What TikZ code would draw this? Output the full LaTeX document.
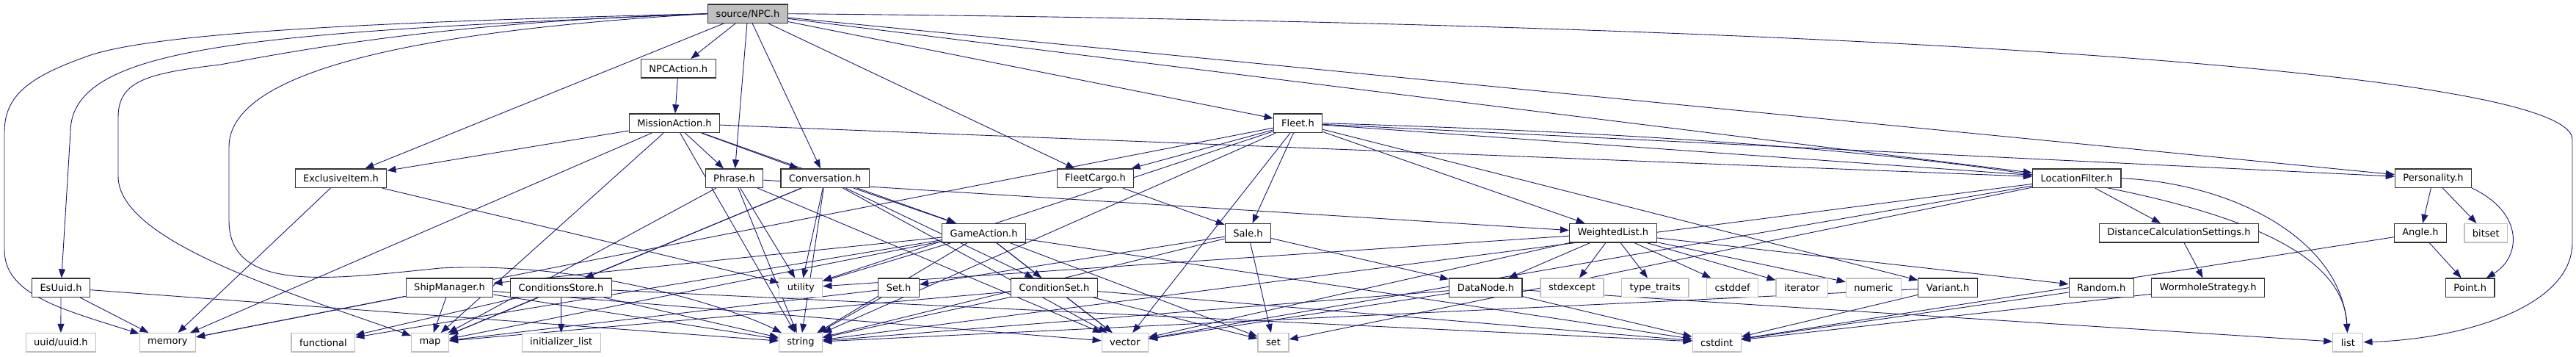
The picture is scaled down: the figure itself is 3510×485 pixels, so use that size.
\documentclass[tikz,border=0pt]{standalone}
\usepackage{fontspec}
\setmainfont{DejaVu Sans}
\usepackage{tikz}
\usetikzlibrary{arrows.meta,backgrounds}
\definecolor{edgeblue}{HTML}{191970}
\definecolor{sysgray}{HTML}{BFBFBF}

\begin{document}
\begin{tikzpicture}[x=1pt,y=-1pt,font=\fontsize{13}{15}\selectfont,
  hdr/.style={draw=black!80,line width=1.2pt,fill=white,inner xsep=11pt,
              inner ysep=0pt,minimum height=25.5pt},
  sys/.style={hdr,draw=sysgray},
  dep/.style={draw=edgeblue,line width=0.9pt,-{Triangle[length=12pt,width=9pt]}}]
\useasboundingbox (0,0) rectangle (3510,485);
% rank 0 to 2
\node[hdr,fill=sysgray] (npc) at (1019,18.7) {source/NPC.h};
\node[hdr] (npcact) at (924.3,93.3) {NPCAction.h};
\node[hdr] (misact) at (919,167.7) {MissionAction.h};
\node[hdr] (fleet) at (1768.5,167.7) {Fleet.h};
% rank 3
\node[hdr] (exitem) at (464.5,242.7) {ExclusiveItem.h};
\node[hdr] (phrase) at (1000.5,242.7) {Phrase.h};
\node[hdr] (conv) at (1124.2,242.7) {Conversation.h};
\node[hdr] (fcargo) at (1492.5,242.7) {FleetCargo.h};
\node[hdr] (locfil) at (2829.7,242.7) {LocationFilter.h};
\node[hdr] (person) at (3315.5,242.7) {Personality.h};
% rank 4
\node[hdr] (gameact) at (1340.6,317.2) {GameAction.h};
\node[hdr] (sale) at (1700.5,317.2) {Sale.h};
\node[hdr] (wlist) at (2197.8,317.2) {WeightedList.h};
\node[hdr] (distcalc) at (2968.9,317.2) {DistanceCalculationSettings.h};
\node[hdr] (angle) at (3298,317.2) {Angle.h};
\node[sys] (bitset) at (3387.3,317.2) {bitset};
% rank 5
\node[hdr] (esuuid) at (83,391.7) {EsUuid.h};
\node[hdr] (shipman) at (612.5,391.7) {ShipManager.h};
\node[hdr] (condstore) at (764.5,391.7) {ConditionsStore.h};
\node[sys] (utility) at (1091.3,391.7) {utility};
\node[hdr] (setH) at (1224.6,391.7) {Set.h};
\node[hdr] (condset) at (1436.4,391.7) {ConditionSet.h};
\node[hdr] (datanode) at (2024.4,391.7) {DataNode.h};
\node[sys] (stdexcept) at (2142,391.7) {stdexcept};
\node[sys] (typetr) at (2255.2,391.7) {type\_traits};
\node[sys] (cstddef) at (2360.6,391.7) {cstddef};
\node[sys] (iterator) at (2455.2,391.7) {iterator};
\node[sys] (numeric) at (2552.9,391.7) {numeric};
\node[hdr] (variant) at (2654,391.7) {Variant.h};
\node[hdr] (random) at (2863.2,391.7) {Random.h};
\node[hdr] (wormhole) at (3008.6,391.7) {WormholeStrategy.h};
\node[hdr] (point) at (3365.7,391.7) {Point.h};
% rank 6, system headers
\node[sys] (uuid) at (82.9,466.3) {uuid/uuid.h};
\node[sys] (memory) at (228.4,466.3) {memory};
\node[sys] (functional) at (440.4,466.3) {functional};
\node[sys] (map) at (586,466.3) {map};
\node[sys] (initlist) at (764.7,466.3) {initializer\_list};
\node[sys] (string) at (1091,466.3) {string};
\node[sys] (vector) at (1532.8,466.3) {vector};
\node[sys] (set) at (1735,466.3) {set};
\node[sys] (cstdint) at (2339.2,466.3) {cstdint};
\node[sys] (list) at (3199.3,466.3) {list};

\begin{scope}[on background layer]
% NPC.h
\draw[dep] (npc)--(npcact); \draw[dep] (npc)--(phrase); \draw[dep] (npc)--(conv);
\draw[dep] (npc)--(exitem); \draw[dep] (npc)--(fcargo); \draw[dep] (npc)--(fleet);
\draw[dep] (npc)--(locfil); \draw[dep] (npc)--(person);
\draw[dep] (npc.west) .. controls (500,30) and (200,45) .. (115,78)
  .. controls (40,105) and (6,130) .. (6,180) -- (6,340)
  .. controls (6,400) and (80,420) .. (memory);
\draw[dep] (npc.west) .. controls (350,45) and (96,60) .. (96,180) -- (esuuid);
\draw[dep] (npc.west) .. controls (600,30) and (400,70) .. (300,88)
  .. controls (200,100) and (161,110) .. (161,160) -- (161,240)
  .. controls (161,330) and (400,400) .. (map);
\draw[dep] (npc.west) .. controls (600,40) and (312,90) .. (312,200) -- (312,300)
  .. controls (312,400) and (450,380) .. (600,365)
  .. controls (800,355) and (1000,420) .. (string);
\draw[dep] (npc.east) .. controls (2400,30) and (3505,90) .. (3505,190) -- (3505,330)
  .. controls (3505,420) and (3350,462) .. (list);
% mission side
\draw[dep] (npcact)--(misact);
\draw[dep] (misact)--(exitem); \draw[dep] (misact)--(memory); \draw[dep] (misact)--(map);
\draw[dep] (misact)--(phrase); \draw[dep] (misact)--(conv); \draw[dep] (misact)--(gameact);
\draw[dep] (misact)--(locfil); \draw[dep] (misact)--(string);
\draw[dep] (exitem)--(memory); \draw[dep] (exitem)--(utility);
\draw[dep] (phrase)--(map); \draw[dep] (phrase)--(string); \draw[dep] (phrase)--(utility);
\draw[dep] (phrase)--(vector); \draw[dep] (phrase)--(wlist);
\draw[dep] (conv)--(condstore); \draw[dep] (conv)--(gameact); \draw[dep] (conv)--(condset);
\draw[dep] (conv)--(map); \draw[dep] (conv)--(string); \draw[dep] (conv)--(utility);
\draw[dep] (conv)--(vector);
% fleet side
\draw[dep] (fcargo)--(sale);
\draw[dep] (fleet)--(fcargo); \draw[dep] (fleet)--(sale); \draw[dep] (fleet)--(wlist);
\draw[dep] (fleet)--(person); \draw[dep] (fleet)--(variant); \draw[dep] (fleet)--(locfil);
\draw[dep] (fleet.east) .. controls (2900,200) and (3190,300) .. (list);
\draw[dep] (fleet)--(memory); \draw[dep] (fleet)--(string); \draw[dep] (fleet)--(utility);
\draw[dep] (fleet)--(vector);
\draw[dep] (gameact)--(shipman); \draw[dep] (gameact)--(condset); \draw[dep] (gameact)--(functional);
\draw[dep] (gameact)--(map); \draw[dep] (gameact)--(utility); \draw[dep] (gameact)--(string);
\draw[dep] (gameact)--(vector); \draw[dep] (gameact)--(set); \draw[dep] (gameact)--(cstdint);
\draw[dep] (sale)--(setH); \draw[dep] (sale)--(datanode); \draw[dep] (sale)--(string);
\draw[dep] (sale)--(set);
\draw[dep] (locfil)--(distcalc);
\draw[dep] (locfil.east) .. controls (3050,250) and (3190,330) .. (list);
\draw[dep] (locfil)--(set); \draw[dep] (locfil)--(string); \draw[dep] (locfil)--(vector);
\draw[dep] (person)--(angle); \draw[dep] (person)--(bitset);
\draw[dep] (person.south east) .. controls (3440,290) and (3435,350) .. (point);
\draw[dep] (wlist)--(datanode); \draw[dep] (wlist)--(stdexcept); \draw[dep] (wlist)--(typetr);
\draw[dep] (wlist)--(cstddef); \draw[dep] (wlist)--(iterator); \draw[dep] (wlist)--(numeric);
\draw[dep] (wlist)--(random); \draw[dep] (wlist)--(utility); \draw[dep] (wlist)--(vector);
\draw[dep] (distcalc)--(wormhole);
\draw[dep] (angle)--(point); \draw[dep] (angle)--(cstdint);
% rank 5 to the system headers
\draw[dep] (esuuid)--(uuid); \draw[dep] (esuuid)--(memory); \draw[dep] (esuuid)--(string);
\draw[dep] (shipman)--(memory); \draw[dep] (shipman)--(map); \draw[dep] (shipman)--(string);
\draw[dep] (shipman)--(vector);
\draw[dep] (condstore)--(functional); \draw[dep] (condstore)--(map); \draw[dep] (condstore)--(initlist);
\draw[dep] (condstore)--(string); \draw[dep] (condstore)--(cstdint);
\draw[dep] (setH)--(map); \draw[dep] (setH)--(string);
\draw[dep] (condset)--(map); \draw[dep] (condset)--(string); \draw[dep] (condset)--(vector);
\draw[dep] (condset)--(set); \draw[dep] (condset)--(cstdint);
\draw[dep] (datanode)--(string); \draw[dep] (datanode)--(vector); \draw[dep] (datanode)--(list);
\draw[dep] (datanode)--(cstdint);
\draw[dep] (variant)--(cstdint); \draw[dep] (variant)--(string);
\draw[dep] (random)--(cstdint); \draw[dep] (wormhole)--(cstdint);
\end{scope}
\end{tikzpicture}
\end{document}
